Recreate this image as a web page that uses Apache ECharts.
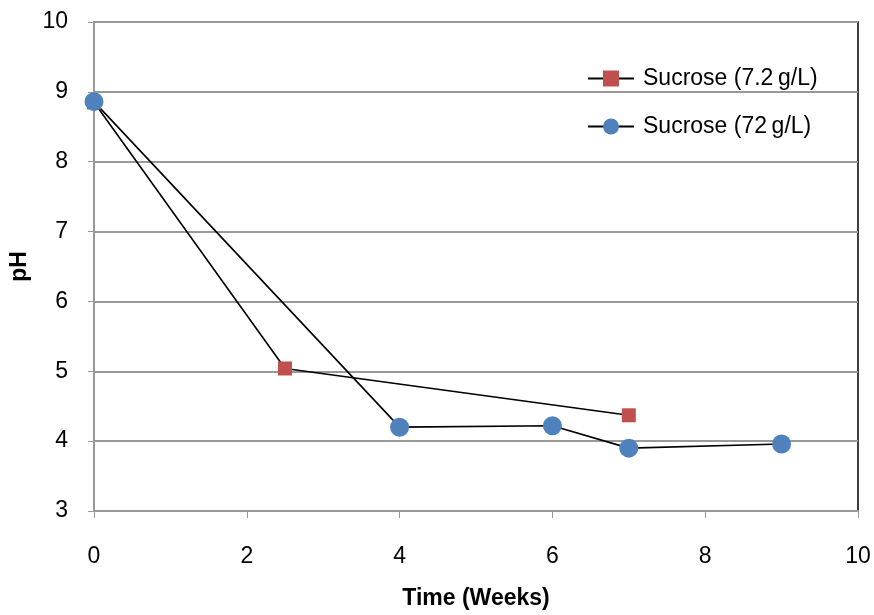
<!DOCTYPE html>
<html><head><meta charset="utf-8">
<script src="https://cdn.jsdelivr.net/npm/echarts@6/dist/echarts.min.js"></script>
<style>html,body{margin:0;padding:0;background:#fff}#c{width:874px;height:615px}</style>
</head><body><div id="c"></div>
<script>
var seriesNames = ['Sucrose (7.2\u2009g/L)', 'Sucrose (72\u2009g/L)'];
var weeksA = [0, 2.5, 7];
var phA = [8.85, 5.04, 4.37];
var weeksB = [0, 4, 6, 7, 9];
var phB = [8.86, 4.2, 4.22, 3.9, 3.96];
var xTicks = [0, 2, 4, 6, 8, 10];
var yTicks = [3, 4, 5, 6, 7, 8, 9, 10];

var font = "'Liberation Sans', Arial, sans-serif";
function pairs(xs, ys){ return xs.map(function(x,i){ return [x, ys[i]]; }); }
var chart = echarts.init(document.getElementById('c'));
chart.setOption({
  animation: false,
  backgroundColor: '#fff',
  grid: { left: 94, right: 16, top: 22, bottom: 100, show: true, borderColor: '#000', borderWidth: 1.5 },
  legend: {
    left: 582, top: 62, orient: 'vertical', itemGap: 25, itemWidth: 46, itemHeight: 20,
    textStyle: { fontFamily: font, fontSize: 23, color: '#000', padding: [0, 0, 0, 4] },
    data: [ { name: seriesNames[0] }, { name: seriesNames[1] } ]
  },
  xAxis: {
    type: 'value', min: xTicks[0], max: xTicks[xTicks.length-1], interval: 2,
    name: 'Time (Weeks)', nameLocation: 'middle', nameGap: 76,
    nameTextStyle: { fontFamily: font, fontSize: 23, fontWeight: 'bold', color: '#000' },
    axisLine: { show: true, lineStyle: { color: '#999', width: 2 } },
    axisTick: { show: true, length: 7, lineStyle: { color: '#999', width: 1 } },
    axisLabel: { fontFamily: font, fontSize: 23, color: '#000', margin: 34 },
    splitLine: { show: false }
  },
  yAxis: {
    type: 'value', min: yTicks[0], max: yTicks[yTicks.length-1], interval: 1,
    name: 'pH', nameLocation: 'middle', nameGap: 62,
    nameTextStyle: { fontFamily: font, fontSize: 23, fontWeight: 'bold', color: '#000' },
    axisLine: { show: true, lineStyle: { color: '#999', width: 2 } },
    axisTick: { show: true, inside: false, length: 6, lineStyle: { color: '#999', width: 1 } },
    axisLabel: { fontFamily: font, fontSize: 23, color: '#000', margin: 26 },
    splitLine: { show: true, lineStyle: { color: '#999', width: 2 } }
  },
  series: [
    {
      name: seriesNames[0], type: 'line', data: pairs(weeksA, phA),
      symbol: 'rect', symbolSize: 14,
      itemStyle: { color: '#C0504D' },
      lineStyle: { color: '#000', width: 1.6 }
    },
    {
      name: seriesNames[1], type: 'line', data: pairs(weeksB, phB),
      symbol: 'circle', symbolSize: 19,
      itemStyle: { color: '#4F81BD' },
      lineStyle: { color: '#000', width: 1.6 }
    }
  ]
});
</script></body></html>
